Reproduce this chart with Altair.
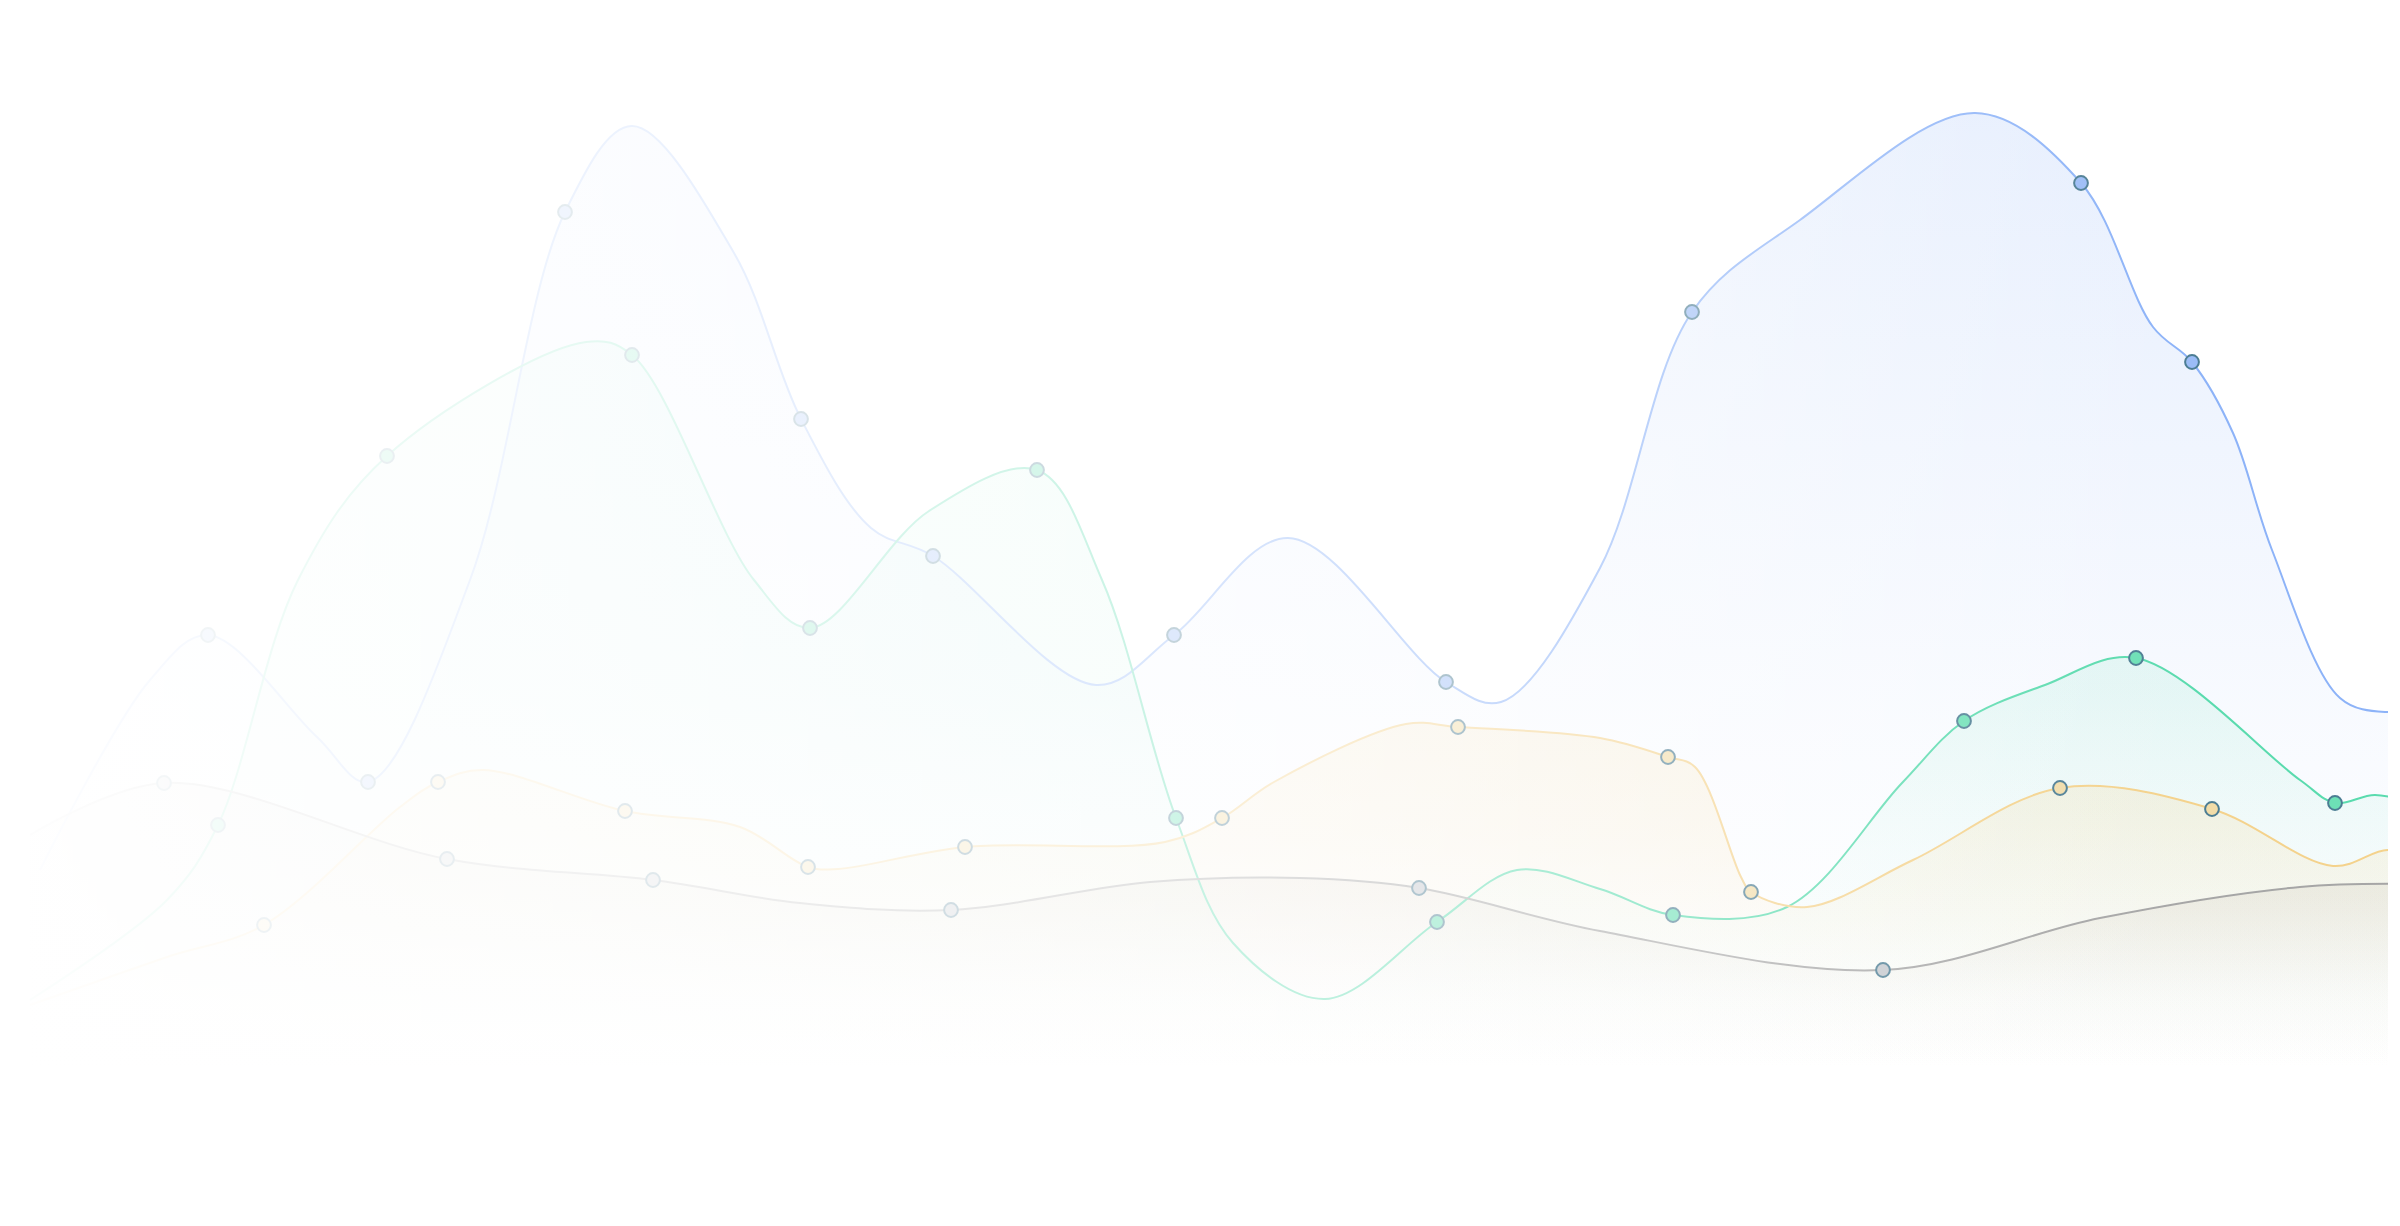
import altair as alt
import pandas as pd

# four smooth series (x along the track, v = height)
BLUE_X = [40, 150, 208, 317, 368, 470, 565, 632, 734, 801, 871, 933, 1096, 1174, 1288, 1446, 1501,
          1600, 1692, 1800, 1975, 2081, 2153, 2192, 2233, 2272, 2340, 2385, 2420]
BLUE_V = [356, 546, 591, 489, 444, 646, 1014, 1100, 973, 807, 698, 670, 541, 591, 688, 544, 524,
          658, 914, 1006, 1113, 1043, 899, 864, 793, 676, 528, 514, 521]
BLUE_DOT = [0, 0, 1, 0, 1, 0, 1, 0, 0, 1, 0, 1, 0, 1, 0, 1, 0,
            0, 1, 0, 0, 1, 0, 1, 0, 0, 0, 0, 0]

TEAL_X = [30, 167, 218, 298, 387, 586, 632, 754, 810, 929, 1037, 1102, 1176, 1233, 1325, 1437,
          1517, 1600, 1673, 1787, 1902, 1964, 2045, 2136, 2300, 2335, 2375, 2420]
TEAL_V = [226, 326, 401, 646, 770, 884, 871, 646, 598, 715, 756, 646, 408, 283, 227, 304,
          356, 337, 311, 319, 443, 505, 541, 568, 446, 423, 431, 421]
TEAL_DOT = [0, 0, 1, 0, 1, 0, 1, 0, 1, 0, 1, 0, 1, 0, 0, 1,
            0, 0, 1, 0, 0, 1, 0, 1, 0, 1, 0, 0]

YELLOW_X = [30, 167, 264, 400, 438, 483, 625, 740, 808, 838, 965, 1165, 1222, 1274, 1406, 1458,
            1600, 1668, 1695, 1741, 1751, 1807, 1913, 2060, 2212, 2333, 2388, 2420]
YELLOW_V = [221, 269, 301, 419, 444, 456, 415, 399, 359, 357, 379, 384, 408, 444, 502, 499,
            488, 469, 459, 349, 334, 319, 366, 438, 417, 360, 376, 364]
YELLOW_DOT = [0, 0, 1, 0, 1, 0, 1, 0, 1, 0, 1, 0, 1, 0, 0, 1,
              0, 1, 0, 0, 1, 0, 0, 1, 1, 0, 0, 0]

GRAY_X = [30, 164, 447, 653, 800, 951, 1150, 1300, 1419, 1600, 1883, 2100, 2300, 2420]
GRAY_V = [391, 443, 367, 346, 323, 316, 344, 348, 338, 295, 256, 308, 339, 342]
GRAY_DOT = [0, 1, 1, 1, 0, 1, 0, 0, 1, 0, 1, 0, 0, 0]

BASELINE = 156
DOT_STROKE = "#4c7d93"
CURVE = "catmull-rom"

# name, x, v, dots, line colour, dot fill, area rgb, area alpha stops
SERIES = [
    ("blue", BLUE_X, BLUE_V, BLUE_DOT, "#8db3f8", "#9bbcf6", "143,180,248",
     [(0, 0.22), (0.4, 0.12), (0.65, 0.06), (1, 0)]),
    ("teal", TEAL_X, TEAL_V, TEAL_DOT, "#5adbae", "#6de0b6", "94,220,176",
     [(0, 0.16), (0.48, 0.12), (0.7, 0.05), (1, 0)]),
    ("yellow", YELLOW_X, YELLOW_V, YELLOW_DOT, "#f4d28c", "#f1dca8", "245,213,146",
     [(0, 0.26), (0.3, 0.2), (0.75, 0.04), (1, 0)]),
    ("gray", GRAY_X, GRAY_V, GRAY_DOT, "#a6a6a6", "#c3c7cc", "190,180,165",
     [(0, 0.26), (0.4, 0.16), (0.75, 0.03), (1, 0)]),
]

# white veil that fades the whole picture towards the left
FADE_X = [8, 100, 208, 400, 565, 800, 1174, 1446, 1692, 1900, 2081, 2200, 2388]
FADE_A = [0.99, 0.96, 0.92, 0.88, 0.85, 0.79, 0.67, 0.55, 0.38, 0.2, 0.06, 0.0, 0.0]

W, H = 2380, 1196
X_SCALE = alt.Scale(domain=[8, 2388], nice=False, zero=False)
Y_SCALE = alt.Scale(domain=[22, 1218], nice=False, zero=False)

areas, lines, dots = [], [], []
for name, xs, vs, flags, line_c, dot_c, rgb, stops in SERIES:
    df = pd.DataFrame({"x": xs, "v": vs, "dot": flags})
    df["base"] = BASELINE
    enc = dict(
        x=alt.X("x:Q", scale=X_SCALE, axis=None),
        y=alt.Y("v:Q", scale=Y_SCALE, axis=None),
    )
    grad = alt.Gradient(
        gradient="linear", x1=0, x2=0, y1=0, y2=1,
        stops=[alt.GradientStop(color=f"rgba({rgb},{a})", offset=o) for o, a in stops],
    )
    areas.append(
        alt.Chart(df).mark_area(interpolate=CURVE, clip=True, fill=grad)
        .encode(y2="base:Q", **enc)
    )
    lines.append(
        alt.Chart(df).mark_line(interpolate=CURVE, clip=True, strokeWidth=2, color=line_c)
        .encode(**enc)
    )
    dots.append(
        alt.Chart(df).transform_filter("datum.dot == 1")
        .mark_circle(size=190, opacity=1, fill=dot_c, stroke=DOT_STROKE, strokeWidth=2)
        .encode(**enc)
    )

veil_grad = alt.Gradient(
    gradient="linear", x1=0, x2=1, y1=0, y2=0,
    stops=[alt.GradientStop(color=f"rgba(255,255,255,{a})", offset=(x - 8) / W)
           for x, a in zip(FADE_X, FADE_A)],
)
veil = alt.Chart(pd.DataFrame({"k": [0]})).mark_rect(fill=veil_grad).encode(
    x=alt.value(0), x2=alt.value(W), y=alt.value(0), y2=alt.value(H)
)

chart = (
    alt.layer(*areas, *lines, *dots, veil)
    .properties(width=W, height=H, padding=0, background="white")
    .configure_view(stroke=None)
)

chart.save("out.html", embed_options={"renderer": "svg", "actions": False})
